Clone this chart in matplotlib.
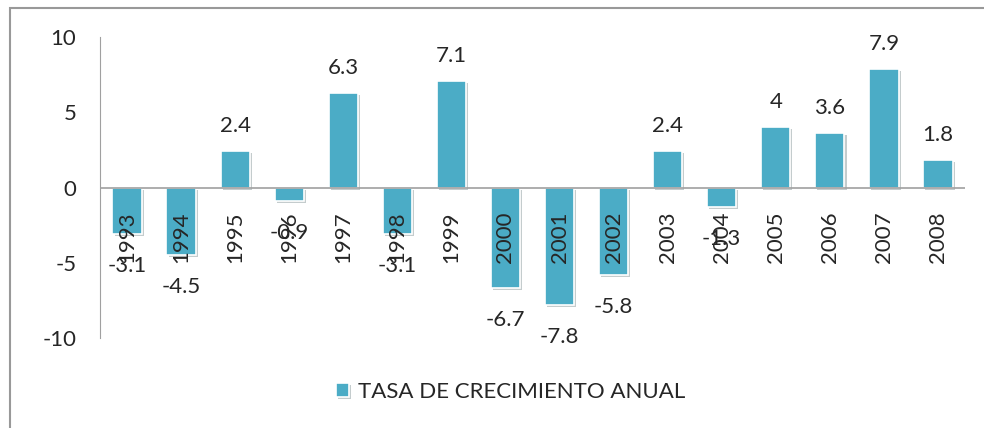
import matplotlib
matplotlib.use('Agg')
from matplotlib import pyplot as plt
from matplotlib.patches import Rectangle
import matplotlib.patheffects as path_effects

plt.rcParams['font.family'] = ['Lato', 'DejaVu Sans']

years = ['1993', '1994', '1995', '1996', '1997', '1998', '1999', '2000',
         '2001', '2002', '2003', '2004', '2005', '2006', '2007', '2008']
tasa = [-3.1, -4.5, 2.4, -0.9, 6.3, -3.1, 7.1, -6.7,
        -7.8, -5.8, 2.4, -1.3, 4, 3.6, 7.9, 1.8]
yticks = [-10, -5, 0, 5, 10]

color = '#4BACC6'
txtcol = '#262626'
fs = 16

fig = plt.figure(figsize=(9.84, 4.28), dpi=100)
ax = fig.add_axes([100/984, 1 - 338/428, 865/984, 301/428])

x = list(range(len(years)))
bars = ax.bar(x, tasa, width=0.54, color=color, edgecolor='white', linewidth=1.2,
              label='TASA DE CRECIMIENTO ANUAL', zorder=3)
for b in bars:
    b.set_path_effects([path_effects.SimplePatchShadow(offset=(1.5, -1.5), alpha=0.25),
                        path_effects.Normal()])

ax.set_xlim(-0.5, len(years) - 0.5)
ax.set_ylim(-10, 10)
ax.set_yticks(yticks)
ax.set_yticklabels([str(t) for t in yticks], fontsize=fs, color=txtcol)
ax.tick_params(axis='y', length=0, pad=17)
ax.set_xticks([])

for s in ['top', 'right', 'bottom']:
    ax.spines[s].set_visible(False)
ax.spines['left'].set_color('#a0a0a0')
ax.axhline(0, color='#a0a0a0', linewidth=1.2, zorder=4)

# year labels just under the zero line
for i, y in enumerate(years):
    ax.annotate(y, xy=(i, 0), xytext=(0, -17), textcoords='offset points',
                rotation=90, ha='center', va='top', fontsize=fs, color=txtcol, zorder=5)

# value labels
for i, v in enumerate(tasa):
    lab = ('%g' % v)
    if v >= 0:
        ax.annotate(lab, xy=(i, v), xytext=(0, 18), textcoords='offset points',
                    ha='center', va='center', fontsize=fs, color=txtcol, zorder=5)
    else:
        ax.annotate(lab, xy=(i, v), xytext=(0, -23), textcoords='offset points',
                    ha='center', va='center', fontsize=fs, color=txtcol, zorder=5)

fig.legend(handles=[bars], loc='center', bbox_to_anchor=(0.519, 0.084), frameon=False,
           fontsize=fs, handlelength=0.6, handleheight=0.6, handletextpad=0.4,
           labelcolor=txtcol)

fig.patches.append(Rectangle((10/984, -0.1), 1.2, 1.1 - 8/428, transform=fig.transFigure,
                             fill=False, edgecolor='#999999', linewidth=1.5))

fig.savefig('out.png', dpi=100)
